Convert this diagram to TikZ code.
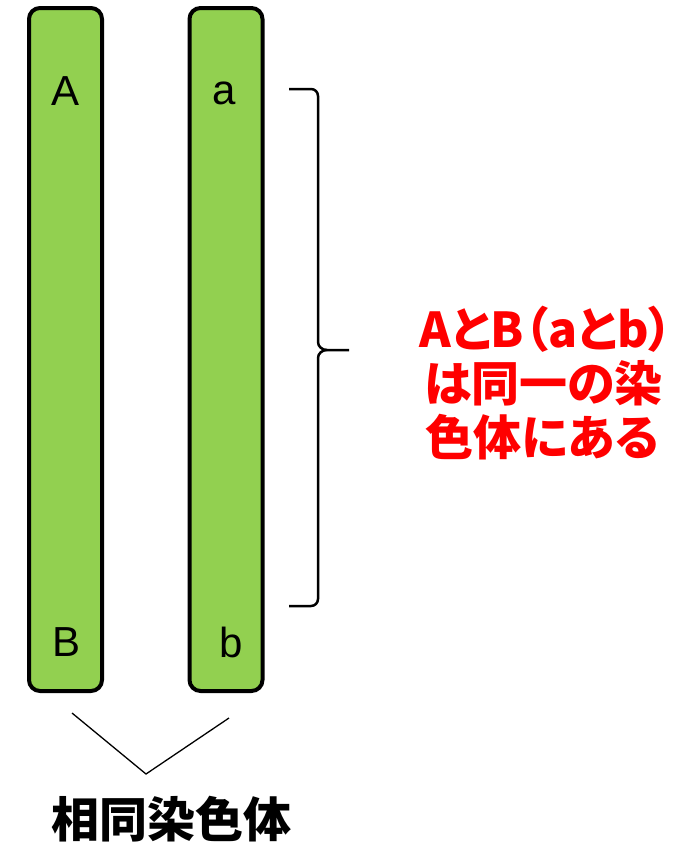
\documentclass[tikz,border=0pt]{standalone}
\usepackage{fontspec}
\setmainfont{Liberation Sans}
\newfontfamily\jpfont[RawFeature=+palt]{Noto Sans CJK JP}
\usetikzlibrary{positioning}
\definecolor{chromogreen}{HTML}{92D050}
\definecolor{notered}{HTML}{FF0000}

\begin{document}
\begin{tikzpicture}[
    x=1pt, y=-1pt,
    chromo/.style={rectangle, draw, line width=4pt, fill=chromogreen,
                   rounded corners=11pt, minimum width=73pt, minimum height=683pt},
    allele/.style={font=\fontsize{42}{44}\selectfont, inner sep=0pt},
    bracket/.style={line width=2.5pt},
    line/.style={draw, line width=1.3pt}
]
\useasboundingbox (0,0) rectangle (679,849);

% the two chromosomes
\node [chromo] (left) at (65.5,349.5) {};
\node [chromo] (right) at (226,349.5) {};

% gene labels
\node [allele] (A) at (66,91) {A};
\node [allele] (a) at (224,93) {a};
\node [allele] (B) at (67,642) {B};
\node [allele] (b) at (231,642) {b};

% brace beside the right chromosome
\draw [bracket] (289,89) -- (311,89) to[out=0,in=90] (318,96) -- (318,342)
    to[out=-90,in=180] (327,350) -- (349,350);
\draw [bracket] (327,350) to[out=180,in=90] (318,358) -- (318,599)
    to[out=-90,in=0] (311,606) -- (289,606);

% note in red
\node [anchor=west, align=left, text=notered, inner sep=0pt,
       font=\jpfont\bfseries\fontsize{48}{54}\selectfont] (note) at (419,383)
    {AとB（aとb）\\\kern5pt は同一の染\\\kern6pt 色体にある};

% pointer to the pair
\coordinate (vl) at (72,713);
\coordinate (vtip) at (146,774);
\coordinate (vr) at (229,718);
\draw [line] (vl) -- (vtip) -- (vr);

\node [font=\jpfont\bfseries\fontsize{48}{50}\selectfont, inner sep=0pt] (pair)
    at (171,819) {相同染色体};

\end{tikzpicture}
\end{document}
